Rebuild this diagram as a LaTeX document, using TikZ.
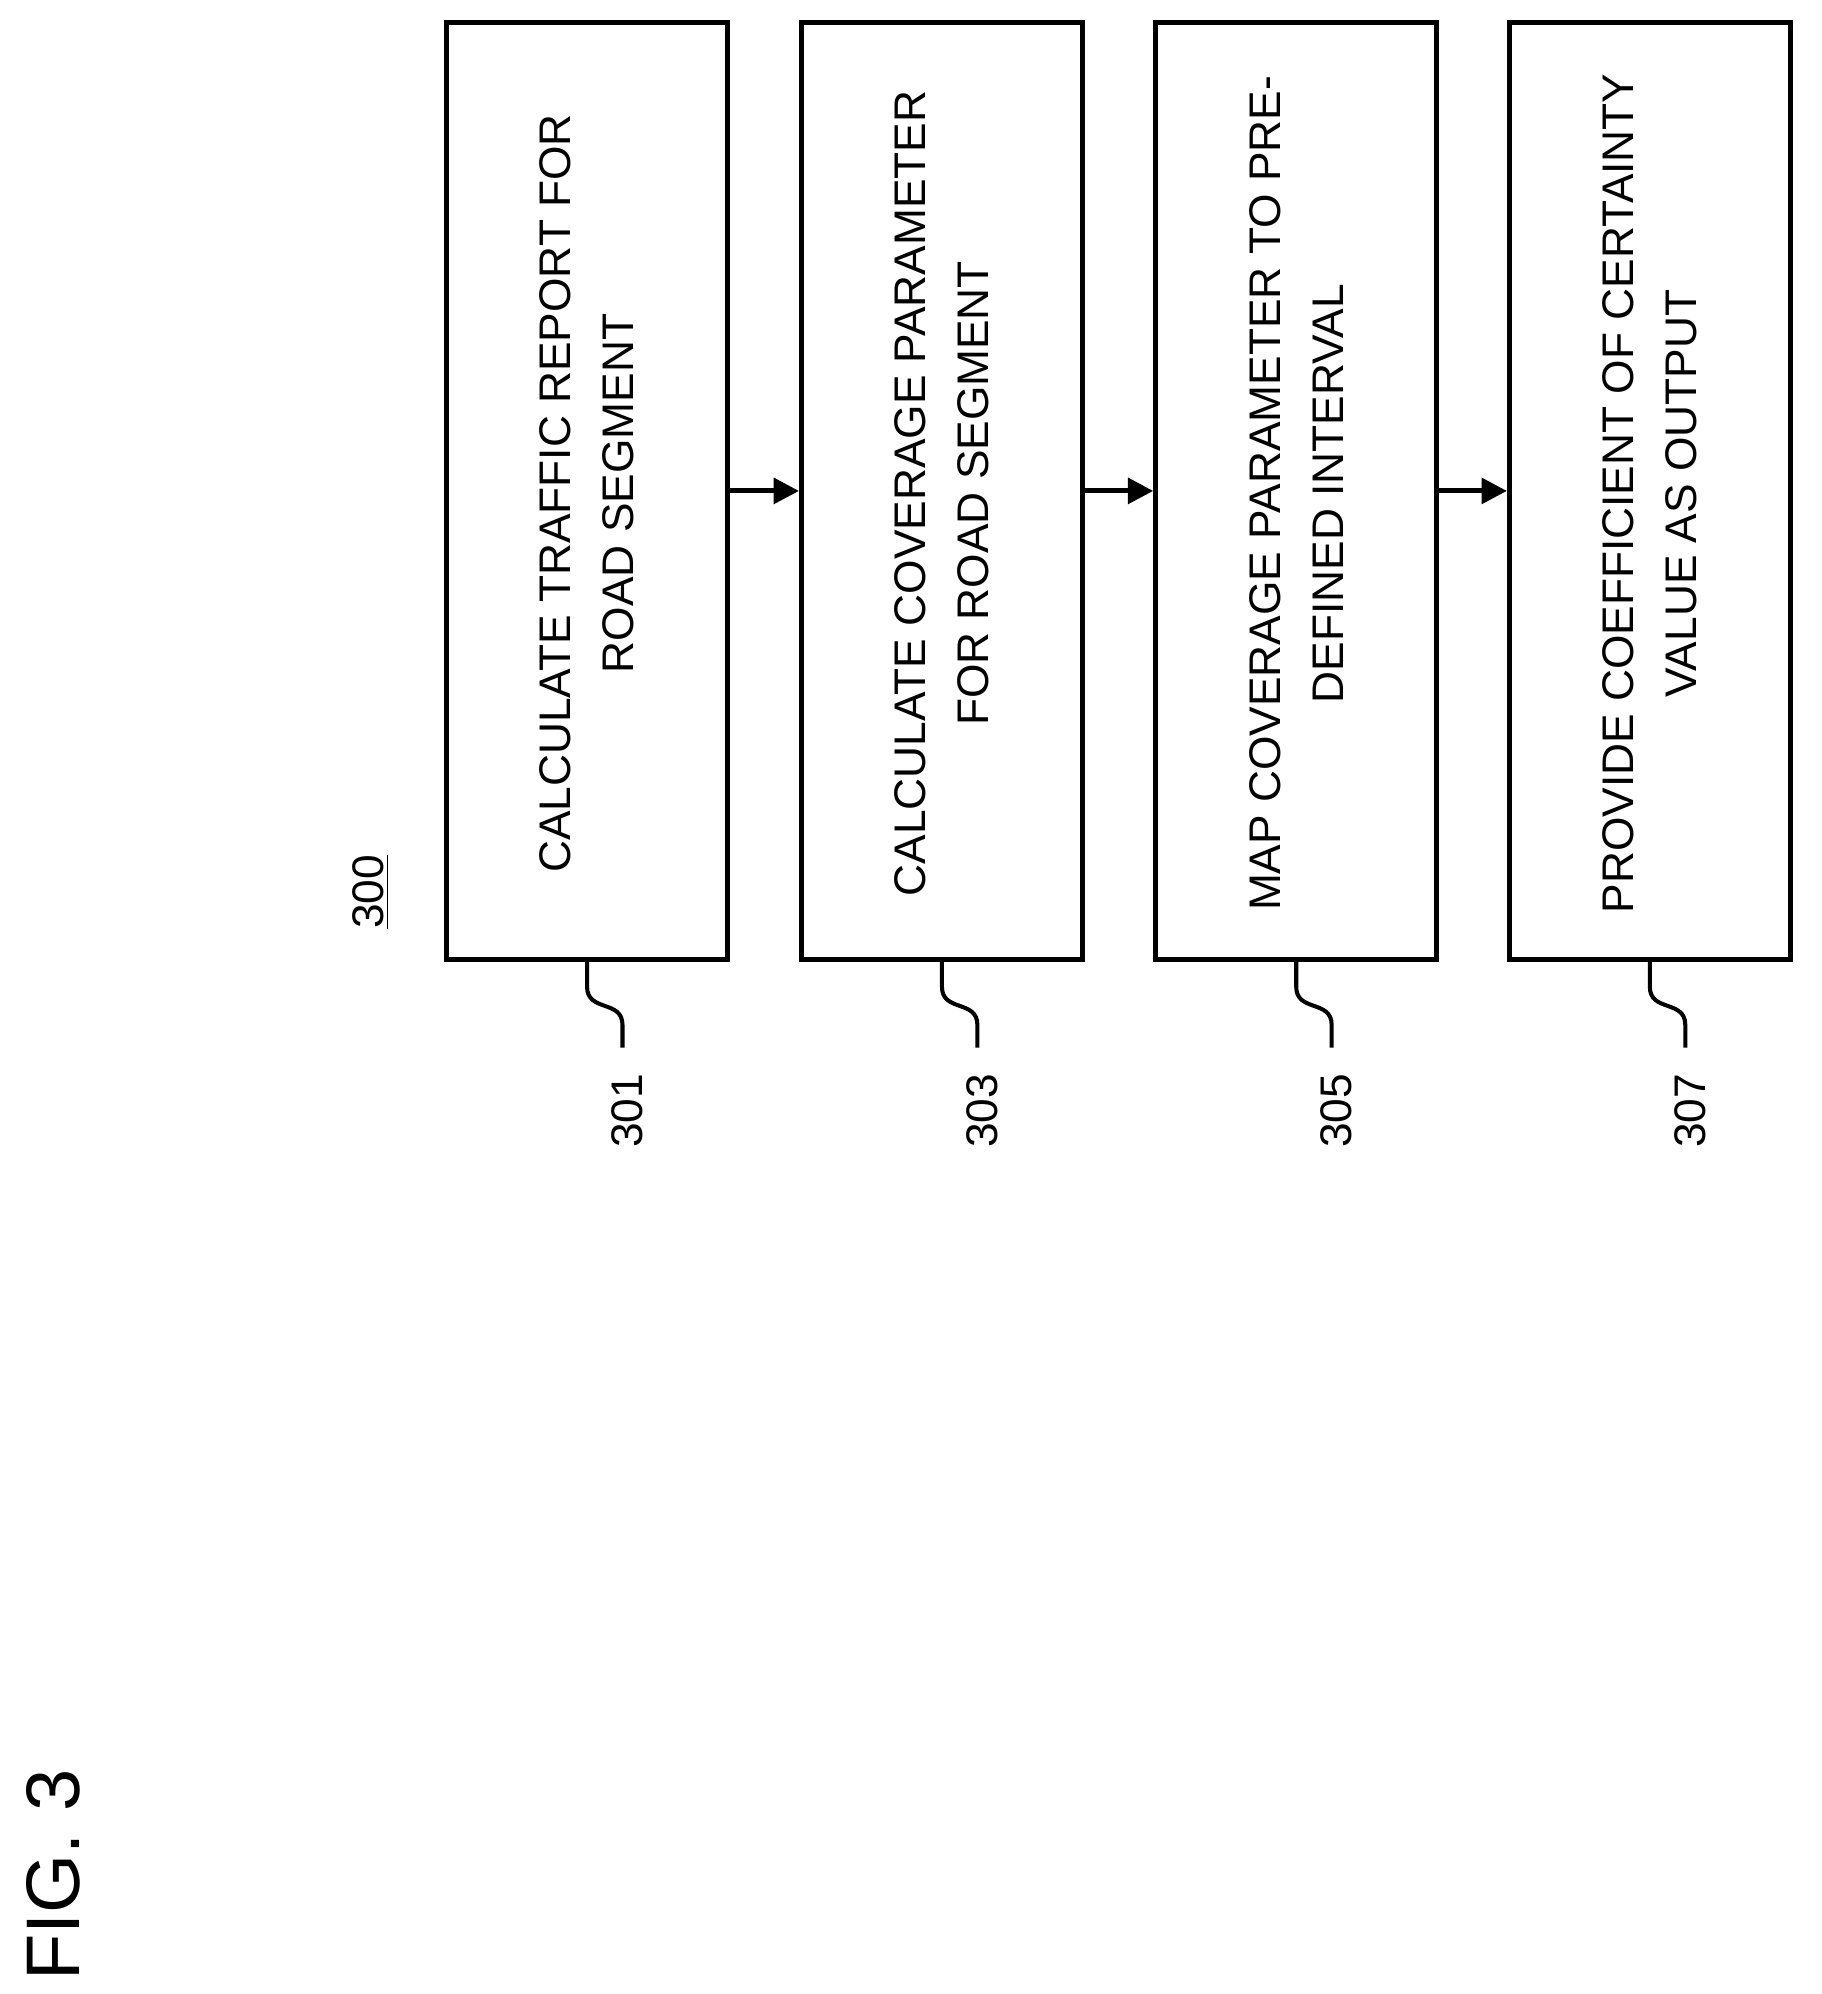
\documentclass[tikz,border=0pt]{standalone}
\usepackage{fontspec}
\setmainfont{Liberation Sans}
\usetikzlibrary{arrows.meta}
\begin{document}
\begin{tikzpicture}[x=0.5pt,y=-0.5pt,
  stepbox/.style={draw,line width=2pt,minimum width=111pt,minimum height=370pt,inner sep=0pt},
  steptext/.style={rotate=90,align=center,font=\fontsize{17.5}{25}\selectfont},
  lbl/.style={rotate=90,font=\fontsize{17.5}{21}\selectfont},
  conn/.style={line width=2pt,-{Triangle[length=10pt,width=10pt]}},
  squig/.style={line width=1.6pt}]
\useasboundingbox (0,0) rectangle (1440,1576);
\foreach \i/\x/\t/\n in {1/464/{CALCULATE TRAFFIC REPORT FOR\\ROAD SEGMENT}/301,
  2/744.5/{CALCULATE COVERAGE PARAMETER\\FOR ROAD SEGMENT}/303,
  3/1024.5/{MAP COVERAGE PARAMETER TO PRE-\\DEFINED INTERVAL}/305,
  4/1304/{PROVIDE COEFFICIENT OF CERTAINTY\\VALUE AS OUTPUT}/307}{
  \node[stepbox] (b\i) at (\x,388) {};
  \node[steptext] (t\i) at (\x,390) {\t};
  \coordinate (s\i) at (\x+28,828);
  \node[lbl] (l\i) at (\x+32,878) {\n};
  \draw[squig] (b\i.south) .. controls ++(0,0.001) and ++(0,0) .. (\x,780) .. controls (\x,800) and (\x+28,790) .. (\x+28,810) -- (s\i);
}
\draw[conn] (b1.east) -- (b2.west);
\draw[conn] (b2.east) -- (b3.west);
\draw[conn] (b3.east) -- (b4.west);
\node[lbl] (n300) at (293,705) {\underline{300}};
\node[rotate=90,font=\fontsize{30}{36}\selectfont] (fig) at (42,1482) {FIG. 3};
\end{tikzpicture}
\end{document}
